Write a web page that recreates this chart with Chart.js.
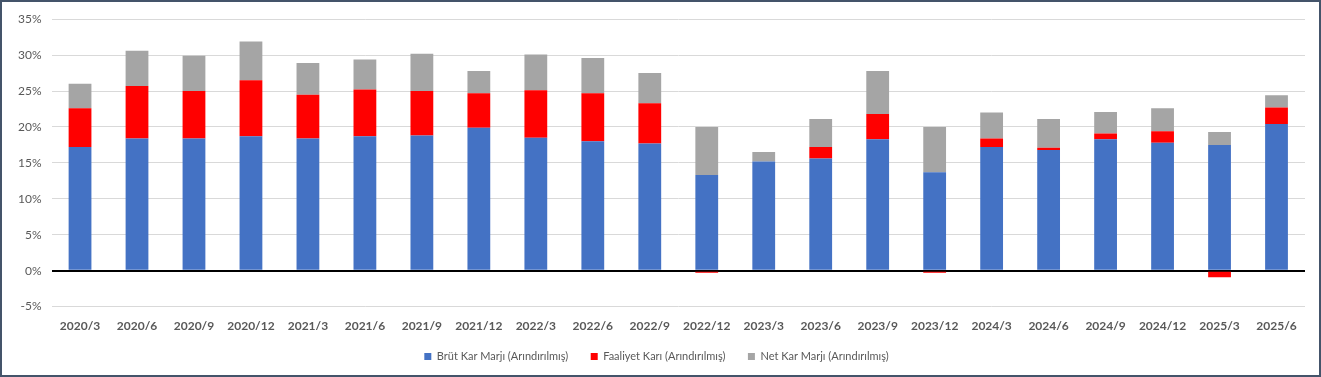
<!DOCTYPE html>
<html>
<head>
<meta charset="utf-8">
<script src="https://cdn.jsdelivr.net/npm/chart.js@4"></script>
<style>
  html, body { margin: 0; padding: 0; background: #fff; }
  #wrap { width: 1317px; height: 373px; border: 2px solid #44546a; position: relative; }
</style>
</head>
<body>
<div id="wrap"><canvas id="marginChart"></canvas></div>
<script>
const periods = ['2020/3', '2020/6', '2020/9', '2020/12', '2021/3', '2021/6', '2021/9', '2021/12',
  '2022/3', '2022/6', '2022/9', '2022/12', '2023/3', '2023/6', '2023/9', '2023/12',
  '2024/3', '2024/6', '2024/9', '2024/12', '2025/3', '2025/6'];

// stacked segment heights, in %
const brutKar = [17.2, 18.4, 18.4, 18.7, 18.4, 18.7, 18.8, 19.9, 18.5, 18.0, 17.7, 13.3,
  15.2, 15.6, 18.3, 13.7, 17.2, 16.8, 18.3, 17.8, 17.5, 20.4];
const faaliyetKari = [5.4, 7.3, 6.6, 7.8, 6.1, 6.5, 6.2, 4.8, 6.6, 6.7, 5.6, -0.3,
  0.0, 1.6, 3.5, -0.3, 1.2, 0.3, 0.8, 1.6, -0.9, 2.3];
const netKar = [3.4, 4.9, 4.9, 5.4, 4.4, 4.2, 5.2, 3.1, 5.0, 4.9, 4.2, 6.7,
  1.3, 3.9, 6.0, 6.3, 3.6, 4.0, 3.0, 3.2, 1.8, 1.7];

const yTicks = [-5, 0, 5, 10, 15, 20, 25, 30, 35];

Chart.defaults.font.family = 'Lato, "Open Sans", sans-serif';
Chart.defaults.color = '#595959';

new Chart(document.getElementById('marginChart'), {
  type: 'bar',
  data: {
    labels: periods,
    datasets: [
      { label: 'Brüt Kar Marjı (Arındırılmış)', data: brutKar, backgroundColor: '#4472c4' },
      { label: 'Faaliyet Karı (Arındırılmış)', data: faaliyetKari, backgroundColor: '#ff0000' },
      { label: 'Net Kar Marjı (Arındırılmış)', data: netKar, backgroundColor: '#a5a5a5' }
    ]
  },
  options: {
    responsive: true,
    maintainAspectRatio: false,
    animation: false,
    datasets: { bar: { barPercentage: 0.4, categoryPercentage: 1.0 } },
    layout: { padding: { top: -3, right: 14, left: 6, bottom: 3 } },
    plugins: {
      tooltip: { enabled: false },
      legend: {
        position: 'bottom',
        labels: {
          boxWidth: 7, boxHeight: 7, padding: 6, font: { size: 11 }, color: '#595959',
          // a bit more room between entries, like the original
          generateLabels: chart => {
            const items = Chart.defaults.plugins.legend.labels.generateLabels(chart);
            items.forEach((it, i) => { if (i < items.length - 1) it.text += '\u2002\u2002\u2002'; });
            return items;
          }
        }
      }
    },
    scales: {
      x: {
        stacked: true,
        grid: { display: false, drawTicks: false },
        border: { display: false },
        ticks: { font: { size: 12, weight: 'bold' }, padding: 12, maxRotation: 0, autoSkip: false }
      },
      y: {
        stacked: true,
        min: -5,
        max: 35,
        afterBuildTicks: axis => { axis.ticks = yTicks.map(v => ({ value: v })); },
        grid: {
          color: ctx => ctx.tick && ctx.tick.value === 0 ? '#000000' : '#d9d9d9',
          lineWidth: ctx => ctx.tick && ctx.tick.value === 0 ? 2 : 1,
          drawTicks: false
        },
        border: { display: false },
        ticks: { font: { size: 12 }, padding: 10, callback: v => v + '%' }
      }
    }
  }
});
</script>
</body>
</html>
